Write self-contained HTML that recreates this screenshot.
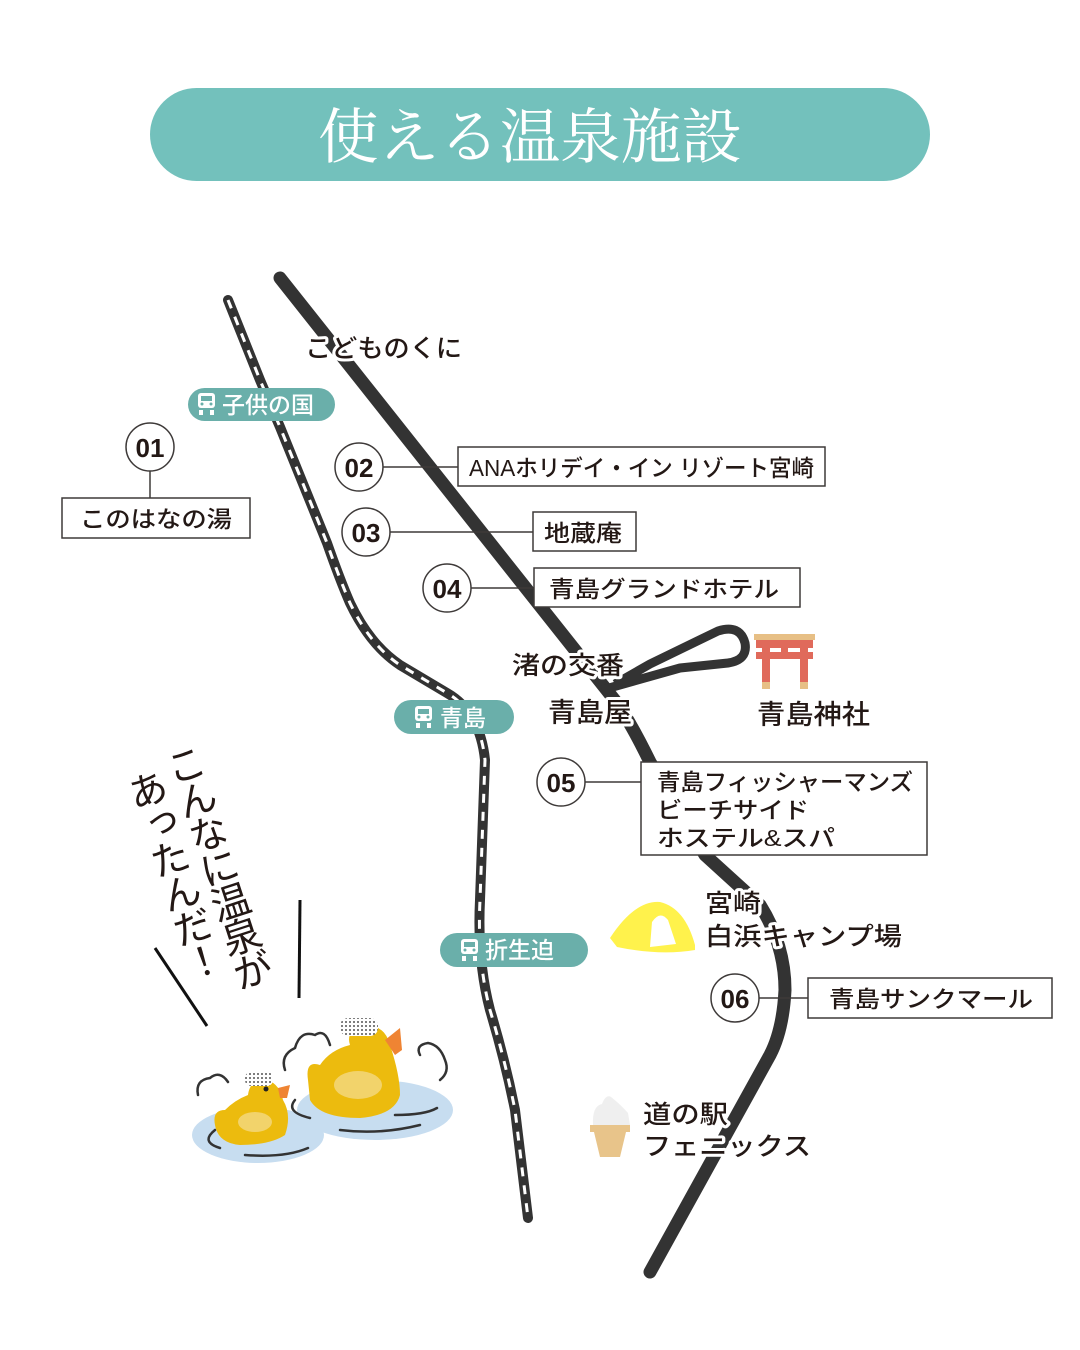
<!DOCTYPE html>
<html><head><meta charset="utf-8"><style>
html,body{margin:0;padding:0;background:#fff}
svg{display:block}
.t{font-family:"Liberation Sans","Noto Sans CJK JP",sans-serif;font-weight:500;fill:#231815}
.h{stroke:#fff;stroke-width:6;paint-order:stroke;stroke-linejoin:round}
.n{font-family:"Liberation Sans","Noto Sans CJK JP",sans-serif;font-weight:700;fill:#231815;font-size:26px}
</style></head><body>
<svg width="1080" height="1350" viewBox="0 0 1080 1350" xmlns="http://www.w3.org/2000/svg">
<defs><pattern id="dots" width="4" height="4" patternUnits="userSpaceOnUse"><rect width="4" height="4" fill="#fff"/><circle cx="2" cy="2" r="1" fill="#555"/></pattern></defs>
<rect x="150" y="88" width="780" height="93" rx="46.5" fill="#73c1bc"/>
<text x="530" y="158" text-anchor="middle" font-family="'Noto Serif CJK SC','Noto Sans CJK JP',serif" font-size="60" fill="#fff" textLength="424" lengthAdjust="spacingAndGlyphs">使える温泉施設</text>

<!-- rail -->
<path d="M228,300 L260,380 L280,427 L327,543 Q340,580 350,603 Q370,645 400,665 L447,693 Q480,712 485,760 L480,900 Q477,960 490,1010 Q505,1060 515,1110 L528,1218" fill="none" stroke="#333" stroke-width="10" stroke-linecap="round"/>
<path d="M228,300 L260,380 L280,427 L327,543 Q340,580 350,603 Q370,645 400,665 L447,693 Q480,712 485,760 L480,900 Q477,960 490,1010 Q505,1060 515,1110 L528,1218" fill="none" stroke="#fff" stroke-width="3" stroke-dasharray="9 9"/>

<!-- road -->
<path d="M280,278 L617,703 Q632,725 650,762 L705,855 L760,905 Q785,945 785,990 Q783,1030 770,1055 L650,1272" fill="none" stroke="#333" stroke-width="13" stroke-linecap="round" stroke-linejoin="round"/>
<path d="M602,690 L680,668 L728,663 Q748,660 745,643 Q740,624 718,631 L650,664 L615,684" fill="none" stroke="#333" stroke-width="9" stroke-linejoin="round"/>

<!-- stations -->
<g font-family="'Liberation Sans','Noto Sans CJK JP',sans-serif" font-weight="500" font-size="23" fill="#fff">
<rect x="188" y="388" width="147" height="33" rx="16.5" fill="#6aafaa"/>
<text x="222" y="413">子供の国</text>
<rect x="394" y="700" width="120" height="34" rx="17" fill="#6aafaa"/>
<text x="440" y="726">青島</text>
<rect x="440" y="933" width="148" height="34" rx="17" fill="#6aafaa"/>
<text x="485" y="958">折生迫</text>
</g>
<g fill="#fff">
<g transform="translate(198,393)"><rect x="0" y="0" width="17" height="15" rx="3"/><rect x="1" y="17" width="4" height="5"/><rect x="12" y="17" width="4" height="5"/><rect x="3" y="3" width="11" height="5" fill="#6aafaa"/><circle cx="4" cy="11" r="1.5" fill="#6aafaa"/><circle cx="13" cy="11" r="1.5" fill="#6aafaa"/></g>
<g transform="translate(415,706)"><rect x="0" y="0" width="17" height="15" rx="3"/><rect x="1" y="17" width="4" height="5"/><rect x="12" y="17" width="4" height="5"/><rect x="3" y="3" width="11" height="5" fill="#6aafaa"/><circle cx="4" cy="11" r="1.5" fill="#6aafaa"/><circle cx="13" cy="11" r="1.5" fill="#6aafaa"/></g>
<g transform="translate(461,939)"><rect x="0" y="0" width="17" height="15" rx="3"/><rect x="1" y="17" width="4" height="5"/><rect x="12" y="17" width="4" height="5"/><rect x="3" y="3" width="11" height="5" fill="#6aafaa"/><circle cx="4" cy="11" r="1.5" fill="#6aafaa"/><circle cx="13" cy="11" r="1.5" fill="#6aafaa"/></g>
</g>

<!-- leader lines & boxes -->
<g stroke="#3e3a39" stroke-width="1.5" fill="#fff">
<line x1="150" y1="471" x2="150" y2="498"/>
<line x1="383" y1="467" x2="458" y2="467"/>
<line x1="390" y1="532" x2="533" y2="532"/>
<line x1="471" y1="588" x2="534" y2="588"/>
<line x1="585" y1="782" x2="641" y2="782"/>
<line x1="759" y1="998" x2="808" y2="998"/>
<rect x="62" y="498" width="188" height="40"/>
<rect x="458" y="447" width="367" height="39"/>
<rect x="533" y="512" width="103" height="39"/>
<rect x="534" y="568" width="266" height="39"/>
<rect x="641" y="762" width="286" height="93"/>
<rect x="808" y="978" width="244" height="40"/>
<circle cx="150" cy="447" r="24"/>
<circle cx="359" cy="467" r="24"/>
<circle cx="366" cy="532" r="24"/>
<circle cx="447" cy="588" r="24"/>
<circle cx="561" cy="782" r="24"/>
<circle cx="735" cy="998" r="24"/>
</g>
<g class="n" text-anchor="middle">
<text x="150" y="457">01</text><text x="359" y="477">02</text><text x="366" y="542">03</text>
<text x="447" y="598">04</text><text x="561" y="792">05</text><text x="735" y="1008">06</text>
</g>
<g class="t" font-size="23">
<text x="80" y="527" textLength="152" lengthAdjust="spacingAndGlyphs">このはなの湯</text>
<text x="469" y="476" textLength="345" lengthAdjust="spacingAndGlyphs">ANAホリデイ・イン リゾート宮崎</text>
<text x="544" y="541" textLength="78" lengthAdjust="spacingAndGlyphs">地蔵庵</text>
<text x="549" y="597" textLength="230" lengthAdjust="spacingAndGlyphs">青島グランドホテル</text>
<text x="657" y="790" textLength="256" lengthAdjust="spacingAndGlyphs">青島フィッシャーマンズ</text>
<text x="657" y="818" textLength="152" lengthAdjust="spacingAndGlyphs">ビーチサイド</text>
<text x="657" y="846" textLength="178" lengthAdjust="spacingAndGlyphs">ホステル&amp;スパ</text>
<text x="829" y="1007" textLength="204" lengthAdjust="spacingAndGlyphs">青島サンクマール</text>
</g>

<!-- map labels -->
<g class="t h" font-size="25">
<text x="305" y="357" textLength="157" lengthAdjust="spacingAndGlyphs">こどものくに</text>
<text x="512" y="674" textLength="112" lengthAdjust="spacingAndGlyphs">渚の交番</text>
<text x="548" y="722" font-size="27" textLength="84" lengthAdjust="spacingAndGlyphs">青島屋</text>
<text x="757" y="724" font-size="27" textLength="113" lengthAdjust="spacingAndGlyphs">青島神社</text>
<text x="705" y="912" textLength="56" lengthAdjust="spacingAndGlyphs">宮崎</text>
<text x="705" y="945" textLength="197" lengthAdjust="spacingAndGlyphs">白浜キャンプ場</text>
<text x="643" y="1123" textLength="85" lengthAdjust="spacingAndGlyphs">道の駅</text>
<text x="643" y="1155" textLength="168" lengthAdjust="spacingAndGlyphs">フェニックス</text>
</g>

<!-- torii -->
<rect x="754" y="634" width="61" height="6" fill="#e7bf85"/>
<rect x="756" y="640" width="57" height="8" fill="#e06a5b"/>
<rect x="756" y="652" width="57" height="7" fill="#e06a5b"/>
<rect x="781" y="646" width="7" height="8" fill="#e06a5b"/>
<rect x="762" y="646" width="8" height="36" fill="#e06a5b"/>
<rect x="800" y="646" width="8" height="36" fill="#e06a5b"/>
<rect x="762" y="682" width="8" height="7" fill="#e7bf85"/>
<rect x="800" y="682" width="8" height="7" fill="#e7bf85"/>

<!-- tent -->
<path d="M610,938 Q635,900 660,902 Q685,908 695,945 L695,950 Q660,956 617,947 Z" fill="#fff24c"/>
<path d="M650,947 L652,922 Q660,910 668,920 L676,944 Z" fill="#fff"/>

<!-- ice cream -->
<path d="M593,1125 Q592,1106 602,1104 Q606,1094 611,1097 Q620,1104 628,1113 L630,1125 Z" fill="#efefef"/>
<rect x="590" y="1125" width="40" height="7" fill="#e8c48a"/>
<path d="M594,1132 L626,1132 L620,1157 L600,1157 Z" fill="#e8c48a"/>

<!-- vertical exclamation -->
<g transform="translate(180,746) rotate(-18)">
<text x="0" y="0" font-family="'Noto Sans CJK JP',sans-serif" font-weight="400" font-size="39" fill="#231815" style="writing-mode:vertical-rl;letter-spacing:-3px">こんなに温泉が</text>
<text x="-44" y="12" font-family="'Noto Sans CJK JP',sans-serif" font-weight="400" font-size="39" fill="#231815" style="writing-mode:vertical-rl;letter-spacing:-3px">あったんだ！</text>
</g>
<line x1="155" y1="948" x2="207" y2="1026" stroke="#111" stroke-width="3"/>
<line x1="300" y1="900" x2="299" y2="998" stroke="#111" stroke-width="3"/>

<!-- ducks -->
<ellipse cx="258" cy="1135" rx="66" ry="28" fill="#c7ddf0"/>
<ellipse cx="375" cy="1110" rx="78" ry="30" fill="#c7ddf0"/>
<g fill="none" stroke="#333" stroke-width="2.5" stroke-linecap="round">
<path d="M215,1130 Q200,1142 220,1148"/>
<path d="M245,1155 Q285,1158 308,1148"/>
<path d="M295,1100 Q285,1112 310,1118"/>
<path d="M340,1130 Q380,1135 420,1125"/>
<path d="M395,1115 Q425,1115 437,1108"/>
<path d="M285,1070 Q280,1055 295,1048 Q300,1030 315,1035 Q325,1028 330,1045"/>
<path d="M420,1055 Q415,1045 428,1043 Q440,1045 445,1060 Q450,1072 440,1080"/>
<path d="M198,1095 Q195,1080 210,1078 Q220,1070 228,1082"/>
</g>
<path d="M308,1080 Q305,1060 320,1065 Q330,1050 350,1045 Q345,1030 365,1025 Q385,1025 390,1045 Q400,1075 400,1095 Q395,1115 360,1118 Q320,1118 310,1100 Z" fill="#ecbb0e"/>
<ellipse cx="358" cy="1085" rx="24" ry="14" fill="#f2d36b"/>
<path d="M385,1040 L400,1028 L402,1050 L395,1055 Z" fill="#ef8433"/>
<rect x="340" y="1018" width="38" height="18" rx="8" fill="url(#dots)"/>
<path d="M215,1125 Q212,1110 225,1110 Q235,1100 248,1095 Q250,1078 268,1080 Q280,1085 283,1100 Q292,1115 285,1135 Q270,1145 240,1145 Q218,1143 215,1125 Z" fill="#ecbb0e"/>
<ellipse cx="255" cy="1122" rx="17" ry="10" fill="#f2d36b"/>
<path d="M278,1088 L290,1085 L287,1098 L280,1098 Z" fill="#ef8433"/>
<rect x="245" y="1072" width="28" height="14" rx="6" fill="url(#dots)"/>
<circle cx="266" cy="1089" r="2.5" fill="#222"/>
</svg>
</body></html>
